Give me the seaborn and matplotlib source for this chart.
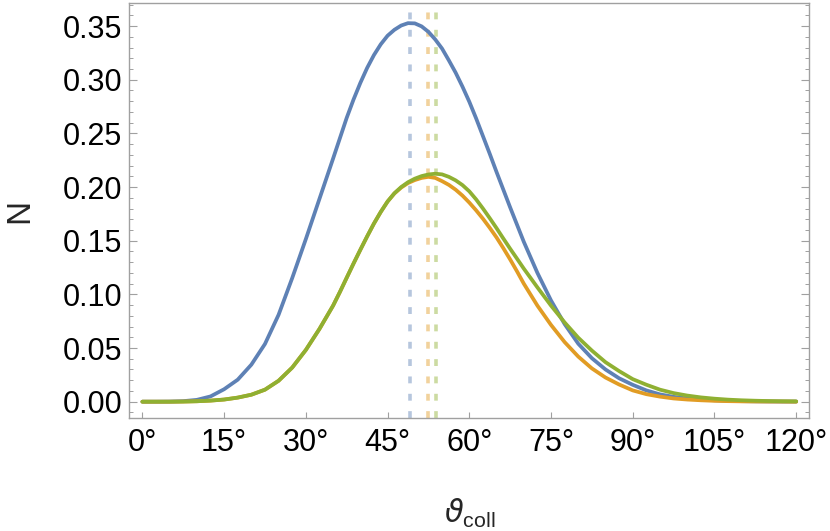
import numpy as np
import pandas as pd
import matplotlib
matplotlib.use("Agg")
import matplotlib.pyplot as plt
import seaborn as sns
from matplotlib.ticker import MultipleLocator, FuncFormatter

# ---- data ----
angles = [0, 2.5, 5, 7.5, 10, 12.5, 15, 17.5, 20, 22.5, 25, 27.5, 30, 32.5,
          35, 36.25, 37.5, 38.75, 40, 41.25, 42.5, 43.75, 45, 46.25, 47.5, 48.75,
          50, 51.25, 52.5, 53.75, 55, 56.25, 57.5, 58.75, 60, 61.25, 62.5, 63.75,
          65, 66.25, 67.5, 68.75, 70,
          72.5, 75, 77.5, 80, 82.5, 85, 87.5, 90, 92.5, 95, 97.5, 100, 102.5, 105,
          107.5, 110, 112.5, 115, 117.5, 120]

n_blue = [0, 0, 0.0001, 0.0005, 0.0017, 0.0049, 0.0116, 0.0205, 0.0345, 0.0538, 0.081,
          0.1152, 0.1515, 0.189,
          0.2265, 0.2455, 0.2645, 0.2815, 0.297, 0.311, 0.323, 0.333, 0.341, 0.3465,
          0.3505, 0.3527, 0.3525, 0.3497, 0.3446, 0.3375, 0.329, 0.318, 0.3065,
          0.2935, 0.2795, 0.264, 0.2475, 0.231, 0.214, 0.1975, 0.181, 0.165, 0.149,
          0.120, 0.0943, 0.0723, 0.054, 0.0405, 0.030, 0.0218, 0.0157, 0.0105, 0.0068,
          0.0045, 0.003, 0.002, 0.0013, 0.0008, 0.0005, 0.0003, 0.0002, 0.0001, 0.0001]

n_orange = [0, 0, 0, 0.0001, 0.0004, 0.001, 0.002, 0.0038, 0.0065, 0.0112, 0.0195,
            0.0318, 0.0482, 0.0678,
            0.0895, 0.1022, 0.1155, 0.1287, 0.1415, 0.154, 0.166, 0.1768, 0.1865,
            0.194, 0.1995, 0.2037, 0.2065, 0.2085, 0.2095, 0.2085, 0.2055, 0.202,
            0.1975, 0.192, 0.1855, 0.1783, 0.1705, 0.162, 0.153, 0.143, 0.1325,
            0.1215, 0.110,
            0.0895, 0.0715, 0.0555, 0.042, 0.031, 0.0225, 0.016, 0.0105, 0.007, 0.0047,
            0.003, 0.002, 0.0013, 0.0008, 0.0005, 0.0003, 0.0002, 0.0001, 0.0001, 0]

n_green = [0, 0, 0, 0.0001, 0.0004, 0.001, 0.002, 0.0038, 0.0065, 0.0112, 0.0195,
           0.0318, 0.0482, 0.0678,
           0.0895, 0.1022, 0.1155, 0.1287, 0.1415, 0.154, 0.166, 0.1768, 0.1865,
           0.1942, 0.2, 0.2045, 0.2078, 0.2102, 0.2117, 0.2124, 0.2118, 0.2095,
           0.2062, 0.2018, 0.196, 0.1885, 0.180, 0.171, 0.1617, 0.152, 0.1425,
           0.1333, 0.124,
           0.1065, 0.0895, 0.0738, 0.0596, 0.0476, 0.0368, 0.0285, 0.021, 0.0158,
           0.0112, 0.008, 0.0057, 0.004, 0.0028, 0.0019, 0.0013, 0.0009, 0.0006,
           0.0004, 0.0003]

series_names = ["blue", "orange", "green"]
peak_angles = [49.2, 52.5, 53.8]
colors = ["#5E81B5", "#E19C24", "#8FB032"]

x_ticks = [0, 15, 30, 45, 60, 75, 90, 105, 120]
y_ticks = [0.00, 0.05, 0.10, 0.15, 0.20, 0.25, 0.30, 0.35]

# ---- build long table ----
df = pd.DataFrame({
    "angle": angles * 3,
    "N": n_blue + n_orange + n_green,
    "series": sum([[s] * len(angles) for s in series_names], []),
})

sns.set_theme(style="white")
plt.rcParams["font.family"] = ["Liberation Sans", "DejaVu Sans"]
plt.rcParams["mathtext.fontset"] = "custom"
plt.rcParams["mathtext.rm"] = "Liberation Sans"
plt.rcParams["mathtext.it"] = "DejaVu Sans:italic"

fig = plt.figure(figsize=(8.30, 5.31), dpi=100)
ax = fig.add_axes([129.3 / 830, (531 - 418) / 531, (809.3 - 129.3) / 830, (418 - 3.3) / 531])

for xv, c in zip(peak_angles, colors):
    ax.axvline(xv, color=c, alpha=0.45, linewidth=2.6, dashes=(1.9, 2.9), zorder=1)

sns.lineplot(data=df, x="angle", y="N", hue="series", palette=dict(zip(series_names, colors)),
             hue_order=series_names, linewidth=2.7, legend=False, ax=ax, zorder=3, sort=False)

ax.set_xlim(-2.4, 122.4)
ax.set_ylim(-0.0152, 0.3712)
ax.set_xticks(x_ticks)
ax.xaxis.set_major_formatter(FuncFormatter(lambda v, p: f"{v:.0f}°"))
ax.set_yticks(y_ticks)
ax.yaxis.set_major_formatter(FuncFormatter(lambda v, p: f"{v:.2f}"))
ax.yaxis.set_minor_locator(MultipleLocator(0.01))

spine_c = "#a0a0a0"
for s in ax.spines.values():
    s.set_color(spine_c)
    s.set_linewidth(1.0)

ax.tick_params(axis="y", which="major", direction="in", length=5.5, width=0.8, color=spine_c,
               left=True, right=True, labelsize=22, pad=5, labelcolor="black")
ax.tick_params(axis="y", which="minor", direction="in", length=3, width=0.7, color=spine_c,
               left=True, right=True)
ax.tick_params(axis="x", which="major", direction="in", length=4, width=0.8, color=spine_c,
               bottom=True, top=False, labelsize=22, pad=7, labelcolor="black")

ax.set_xlabel(r"$\vartheta_{\mathrm{coll}}$", fontsize=22)
ax.xaxis.set_label_coords(0.5, -0.19)
ax.set_ylabel("N", fontsize=24, labelpad=0)
ax.yaxis.set_label_coords(-0.139, 0.5)

fig.savefig("out.png", dpi=100)
